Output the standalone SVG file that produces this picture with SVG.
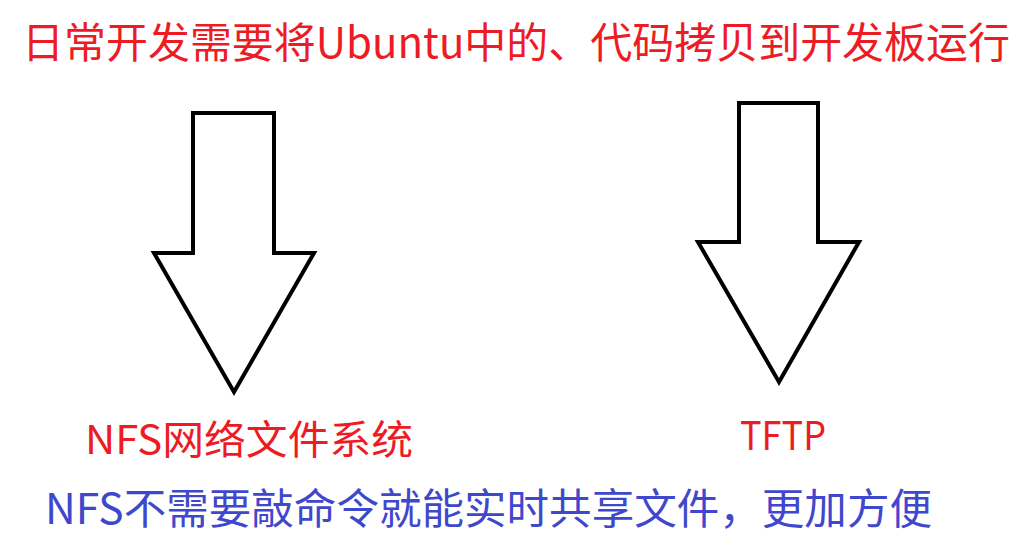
<svg xmlns="http://www.w3.org/2000/svg" width="1026" height="552" viewBox="0 0 1026 552">
<style>
.t{font-family:"Noto Sans CJK SC","Noto Sans",sans-serif;}
.red{fill:#ED1C24;}
.blue{fill:#3F48CC;}
.arrow{fill:#fff;stroke:#000;stroke-width:4;stroke-linejoin:miter;}
</style>
<rect width="1026" height="552" fill="#fff"/>
<g id="title">
<text class="t red" x="22" y="58" font-size="42" textLength="988" lengthAdjust="spacingAndGlyphs">日常开发需要将Ubuntu中的、代码拷贝到开发板运行</text>
</g>
<g id="connectors">
<polygon class="arrow" points="193,113 274,113 274,253 314,253 234,392 154,253 193,253"/>
<polygon class="arrow" points="739,103 818,103 818,242 859,242 779,382 698,242 739,242"/>
</g>
<g id="nfs">
<text class="t red" x="85" y="454" font-size="40" textLength="328" lengthAdjust="spacingAndGlyphs">NFS网络文件系统</text>
</g>
<g id="tftp">
<text class="t red" x="740" y="450" font-size="40" textLength="86" lengthAdjust="spacingAndGlyphs">TFTP</text>
</g>
<g id="note">
<text class="t blue" x="45" y="524" font-size="42" textLength="887" lengthAdjust="spacingAndGlyphs">NFS不需要敲命令就能实时共享文件，更加方便</text>
</g>
</svg>
